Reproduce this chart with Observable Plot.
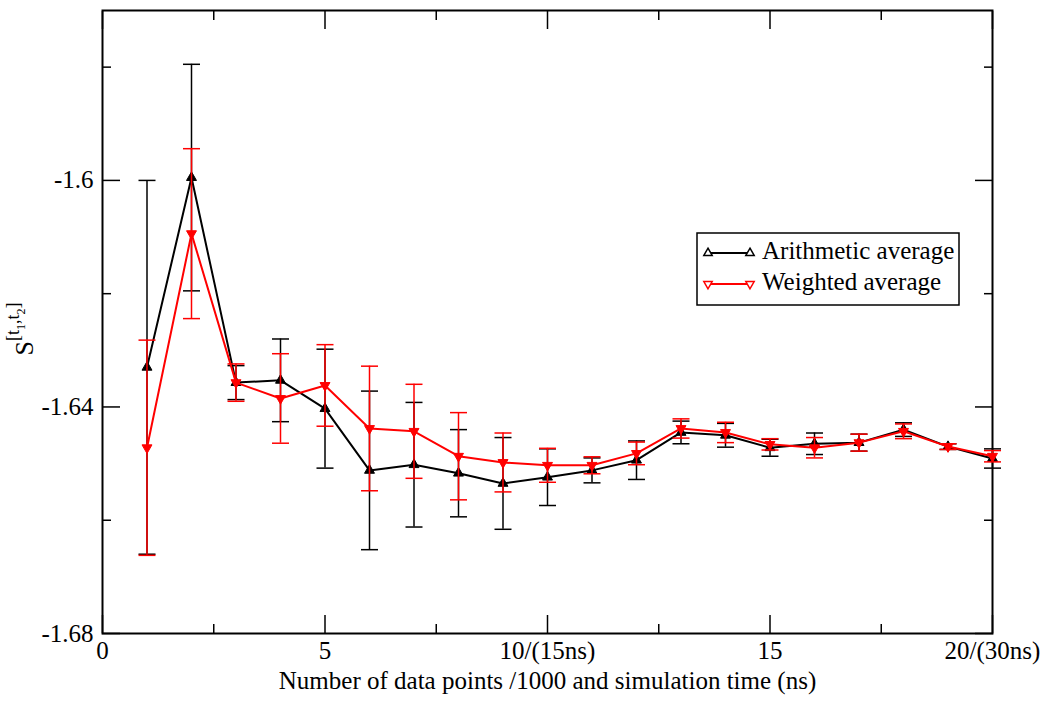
<!DOCTYPE html>
<html><head><meta charset="utf-8">
<script src="https://cdn.jsdelivr.net/npm/d3@7"></script>
<script src="https://cdn.jsdelivr.net/npm/@observablehq/plot@0.6"></script>
<style>body{margin:0;background:#fff}</style>
</head><body><div id="chart"></div>
<script>
// ---- data ----
const xValues = [1,2,3,4,5,6,7,8,9,10,11,12,13,14,15,16,17,18,19,20];
const arithmetic = [-1.6330,-1.5995,-1.6357,-1.6353,-1.6403,-1.6512,-1.6502,-1.6517,-1.6535,-1.6524,-1.6512,-1.6494,-1.6445,-1.6450,-1.6472,-1.6465,-1.6463,-1.6440,-1.6470,-1.6491];
const arithmeticErr = [0.0330,0.0200,0.0030,0.0073,0.0105,0.0140,0.0110,0.0077,0.0081,0.0050,0.0022,0.0034,0.0020,0.0021,0.0015,0.0019,0.0015,0.0012,0.0005,0.0017];
const weighted = [-1.6472,-1.6094,-1.6357,-1.6385,-1.6362,-1.6438,-1.6443,-1.6487,-1.6498,-1.6503,-1.6503,-1.6482,-1.6438,-1.6445,-1.6466,-1.6472,-1.6463,-1.6443,-1.6470,-1.6487];
const weightedErr = [0.0190,0.0150,0.0033,0.0079,0.0072,0.0110,0.0083,0.0077,0.0052,0.0030,0.0015,0.0020,0.0017,0.0018,0.0010,0.0018,0.0015,0.0013,0.0005,0.0010];
const seriesNames = ["Arithmetic average","Weighted average"];
const xTickValues = [0,5,10,15,20];
const xTickLabels = ["0","5","10/(15ns)","15","20/(30ns)"];
const xMinorTicks = [2.5,7.5,12.5,17.5];
const yTickValues = [-1.68,-1.64,-1.6];
const yTickLabels = ["-1.68","-1.64","-1.6"];
const yMinorTicks = [-1.66,-1.62,-1.58];
const xLabel = "Number of data points /1000 and simulation time (ns)";

// ---- build tables ----
const mk = (vals, errs) => xValues.map((x,i)=>({x, y: vals[i], lo: vals[i]-errs[i], hi: vals[i]+errs[i]}));
const arith = mk(arithmetic, arithmeticErr);
const weigh = mk(weighted, weightedErr);
const xLabMap = new Map(xTickValues.map((v,i)=>[v, xTickLabels[i]]));
const yLabMap = new Map(yTickValues.map((v,i)=>[v, yTickLabels[i]]));

const capSymbol = {draw(ctx, size){ const h = Math.sqrt(size/Math.PI); ctx.moveTo(-h,0); ctx.lineTo(h,0); }};
const triDown = {draw(ctx, size){ const y = -Math.sqrt(size/(Math.sqrt(3)*3)); ctx.moveTo(0,-2*y); ctx.lineTo(Math.sqrt(3)*y, y); ctx.lineTo(-Math.sqrt(3)*y, y); ctx.closePath(); }};

const FONT = "'Liberation Serif', 'DejaVu Serif', serif";
const FS = 25;
const series = (data, color, sym) => [
  Plot.ruleX(data, {x:"x", y1:"lo", y2:"hi", stroke: color, strokeWidth: 1.5}),
  Plot.dot(data, {x:"x", y:"lo", symbol: capSymbol, r: 8.5, stroke: color, strokeWidth: 1.5, fill: "none"}),
  Plot.dot(data, {x:"x", y:"hi", symbol: capSymbol, r: 8.5, stroke: color, strokeWidth: 1.5, fill: "none"}),
  Plot.line(data, {x:"x", y:"y", stroke: color, strokeWidth: 2}),
  Plot.dot(data, {x:"x", y:"y", symbol: sym, r: 3.7, fill: color, stroke: color, strokeWidth: 1})
];

const chart = Plot.plot({
  width: 1050, height: 708,
  marginLeft: 102, marginRight: 58, marginTop: 10, marginBottom: 75,
  style: {fontFamily: FONT, background: "#fff", color: "#000"},
  x: {domain: [0,20]},
  y: {domain: [-1.68,-1.57]},
  marks: [
    // tick labels
    Plot.axisX(xTickValues, {anchor:"bottom", tickSize: 0, tickPadding: 8, tickFormat: d => xLabMap.get(d), fontSize: FS, fontFamily: FONT, label: null}),
    Plot.axisY(yTickValues, {anchor:"left", tickSize: 0, tickPadding: 9, tickFormat: d => yLabMap.get(d), fontSize: FS, fontFamily: FONT, label: null}),
    // inward ticks, all four sides
    Plot.axisX(xTickValues, {anchor:"bottom", tickSize: -18, fill: "none", strokeWidth: 1.5, label: null}),
    Plot.axisX(xMinorTicks, {anchor:"bottom", tickSize: -9, fill: "none", strokeWidth: 1.5, label: null}),
    Plot.axisX(xTickValues, {anchor:"top", tickSize: -18, fill: "none", strokeWidth: 1.5, label: null}),
    Plot.axisX(xMinorTicks, {anchor:"top", tickSize: -9, fill: "none", strokeWidth: 1.5, label: null}),
    Plot.axisY(yTickValues, {anchor:"left", tickSize: -18, fill: "none", strokeWidth: 1.5, label: null}),
    Plot.axisY(yMinorTicks, {anchor:"left", tickSize: -9, fill: "none", strokeWidth: 1.5, label: null}),
    Plot.axisY(yTickValues, {anchor:"right", tickSize: -18, fill: "none", strokeWidth: 1.5, label: null}),
    Plot.axisY(yMinorTicks, {anchor:"right", tickSize: -9, fill: "none", strokeWidth: 1.5, label: null}),
    Plot.frame({stroke: "#000", strokeWidth: 2}),
    Plot.text([xLabel], {frameAnchor: "bottom", dy: 55, fontSize: FS, fontFamily: FONT, fill: "#000"}),
    ...series(arith, "#000000", "triangle"),
    ...series(weigh, "#ff0000", triDown)
  ]
});

// y-axis label with superscript/subscripts
const svg = d3.select(chart);
const yl = svg.append("text")
  .attr("transform", "translate(33,329) rotate(-90)")
  .attr("text-anchor", "middle")
  .style("font-family", FONT)
  .attr("fill", "#000");
yl.append("tspan").attr("font-size", 26).text("S");
yl.append("tspan").attr("font-size", 18).attr("dy", -14).text("[t");
yl.append("tspan").attr("font-size", 12).attr("dy", 6).text("1");
yl.append("tspan").attr("font-size", 18).attr("dy", -6).text(",t");
yl.append("tspan").attr("font-size", 12).attr("dy", 6).text("2");
yl.append("tspan").attr("font-size", 18).attr("dy", -6).text("]");

// legend
const lg = svg.append("g").style("font-family", FONT).attr("text-anchor", "start");
lg.append("rect").attr("x", 697).attr("y", 233).attr("width", 262).attr("height", 72)
  .attr("fill", "#fff").attr("stroke", "#000").attr("stroke-width", 1.5);
const legendItems = [
  {name: seriesNames[0], color: "#000000", sym: d3.symbolTriangle, y: 253},
  {name: seriesNames[1], color: "#ff0000", sym: triDown, y: 284}
];
legendItems.forEach(it => {
  lg.append("line").attr("x1", 708).attr("x2", 750).attr("y1", it.y).attr("y2", it.y)
    .attr("stroke", it.color).attr("stroke-width", 2);
  [708, 750].forEach(px => {
    lg.append("path").attr("d", d3.symbol(it.sym, 30)()).attr("transform", `translate(${px},${it.y})`)
      .attr("fill", "#fff").attr("stroke", it.color).attr("stroke-width", 1.5);
  });
  lg.append("text").attr("x", 762).attr("y", it.y + 6).attr("font-size", FS)
    .attr("text-anchor", "start").attr("fill", "#000").text(it.name);
});

document.getElementById("chart").appendChild(chart);
</script>
</body></html>
